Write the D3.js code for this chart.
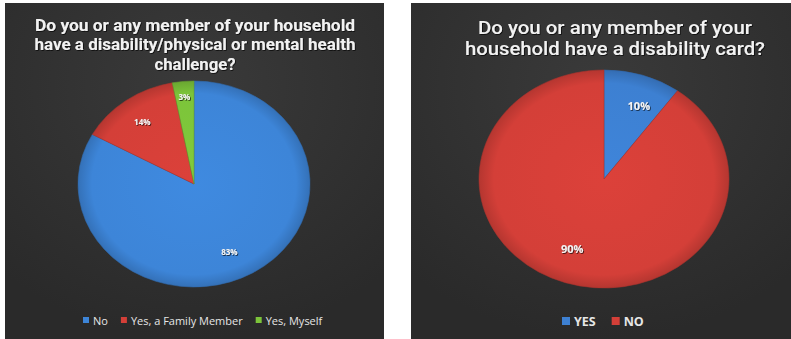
<!DOCTYPE html>
<html>
<head>
<meta charset="utf-8">
<script src="https://cdn.jsdelivr.net/npm/d3@7"></script>
<style>
  html, body { margin: 0; padding: 0; background: #ffffff; }
  svg { display: block; }
</style>
</head>
<body>
<svg id="chart" width="791" height="339"></svg>
<script>
// Survey question 1: disability / health challenge in household
const q1Title = ["Do you or any member of your household",
                 "have a disability/physical or mental health",
                 "challenge?"];
const q1Categories = ["No", "Yes, a Family Member", "Yes, Myself"];
const q1Values = [83, 14, 3];
const q1Colors = ["#3d85d8", "#d43f38", "#7cc43a"];

// Survey question 2: disability card
const q2Title = ["Do you or any member of your",
                 "household have a disability card?"];
const q2Categories = ["YES", "NO"];
const q2Values = [10, 90];
const q2Colors = ["#3d80d2", "#d43f38"];

const svg = d3.select("#chart");
const defs = svg.append("defs");

// soft shadow under text
const sh = defs.append("filter").attr("id", "txtShadow")
  .attr("x", "-20%").attr("y", "-20%").attr("width", "140%").attr("height", "140%");
sh.append("feDropShadow").attr("dx", 0.8).attr("dy", 0.8)
  .attr("stdDeviation", 0.6).attr("flood-color", "#000").attr("flood-opacity", 0.8);

// panel background: dark with a faint lighter glow near the top
const bg = defs.append("radialGradient").attr("id", "panelBg")
  .attr("cx", "50%").attr("cy", "25%").attr("r", "75%");
bg.append("stop").attr("offset", "0%").attr("stop-color", "#3a3a3a");
bg.append("stop").attr("offset", "100%").attr("stop-color", "#2a2a2a");

function drawPanel(opts) {
  const g = svg.append("g");
  g.append("rect")
    .attr("x", opts.x0).attr("y", opts.y0)
    .attr("width", opts.x1 - opts.x0).attr("height", opts.y1 - opts.y0)
    .attr("fill", "url(#panelBg)");

  // title, one text element per line, each fitted to its line width
  opts.title.forEach((line, i) => {
    const w = opts.titleWidths[i];
    g.append("text")
      .attr("x", opts.titleX - w / 2)
      .attr("y", opts.titleY + i * opts.titleLead)
      .attr("text-anchor", "start")
      .attr("fill", "#f2f2f2")
      .attr("font-family", "Roboto, 'DejaVu Sans', sans-serif")
      .attr("font-weight", opts.titleWeight)
      .attr("font-size", opts.titleSize)
      .attr("textLength", w)
      .attr("lengthAdjust", "spacingAndGlyphs")
      .attr("filter", "url(#txtShadow)")
      .text(line);
  });

  // pie: circular layout squashed vertically for a tilted look
  const pie = d3.pie().sort(null).value(d => d.value);
  const arcs = pie(opts.categories.map((c, i) => ({ cat: c, value: opts.values[i], color: opts.colors[i] })));
  const r = opts.rx;
  const arc = d3.arc().innerRadius(0).outerRadius(r);
  const labelArc = d3.arc().innerRadius(r * opts.labelR).outerRadius(r * opts.labelR);

  const pg = g.append("g")
    .attr("transform", `translate(${opts.cx},${opts.cy}) scale(1,${opts.ry / opts.rx})`);

  arcs.forEach((a, i) => {
    const gid = opts.id + "s" + i;
    const grad = defs.append("radialGradient").attr("id", gid)
      .attr("gradientUnits", "userSpaceOnUse")
      .attr("cx", 0).attr("cy", 0).attr("r", r);
    const base = d3.color(a.data.color);
    grad.append("stop").attr("offset", "0%").attr("stop-color", base.brighter(0.1));
    grad.append("stop").attr("offset", "88%").attr("stop-color", base);
    grad.append("stop").attr("offset", "100%").attr("stop-color", base.darker(0.45));
    pg.append("path")
      .attr("d", arc(a))
      .attr("fill", `url(#${gid})`)
      .attr("stroke", base.darker(0.6))
      .attr("stroke-width", 0.6);
  });

  // value labels
  arcs.forEach((a, i) => {
    const [lx, ly] = labelArc.centroid(a);
    g.append("text")
      .attr("x", opts.cx + lx + opts.labelDx[i])
      .attr("y", opts.cy + ly * opts.ry / opts.rx + opts.labelDy[i])
      .attr("text-anchor", "middle")
      .attr("dominant-baseline", "central")
      .attr("fill", "#f4f4f4")
      .attr("font-family", "'Open Sans', 'DejaVu Sans', sans-serif")
      .attr("font-weight", "bold")
      .attr("font-size", opts.labelSize)
      .attr("filter", "url(#txtShadow)")
      .text(a.data.value + "%");
  });

  // legend
  const lg = g.append("g");
  let x = opts.legendX;
  opts.categories.forEach((c, i) => {
    lg.append("rect")
      .attr("x", x).attr("y", opts.legendY - opts.swatch / 2)
      .attr("width", opts.swatch).attr("height", opts.swatch)
      .attr("fill", opts.colors[i]);
    const txt = lg.append("text")
      .attr("x", x + opts.swatch + opts.swatchPad)
      .attr("y", opts.legendY)
      .attr("dominant-baseline", "central")
      .attr("fill", "#e6e6e6")
      .attr("font-family", "'Open Sans', 'DejaVu Sans', sans-serif")
      .attr("font-weight", opts.legendWeight)
      .attr("font-size", opts.legendSize)
      .text(c);
    x += opts.swatch + opts.swatchPad + txt.node().getComputedTextLength() + opts.legendGap;
  });
}

drawPanel({
  id: "p1", x0: 5, y0: 3, x1: 384, y1: 339,
  title: q1Title, titleWidths: [320, 321, 81],
  titleX: 195, titleY: 30.5, titleLead: 19.5, titleSize: 16, titleWeight: "bold",
  categories: q1Categories, values: q1Values, colors: q1Colors,
  cx: 194, cy: 184, rx: 116, ry: 103, labelR: 0.7, labelSize: 8,
  labelDx: [-6, -4, -2], labelDy: [5, -4, -16],
  legendX: 83, legendY: 320, swatch: 6, swatchPad: 4, legendSize: 11, legendWeight: "normal", legendGap: 13
});

drawPanel({
  id: "p2", x0: 411, y0: 3, x1: 791, y1: 339,
  title: q2Title, titleWidths: [274, 300],
  titleX: 615, titleY: 33.5, titleLead: 21.5, titleSize: 18, titleWeight: "500",
  categories: q2Categories, values: q2Values, colors: q2Colors,
  cx: 604, cy: 179, rx: 125, ry: 109, labelR: 0.72, labelSize: 11,
  labelDx: [7, -4], labelDy: [1, -5],
  legendX: 562, legendY: 321, swatch: 8, swatchPad: 4, legendSize: 12.5, legendWeight: "bold", legendGap: 16
});
</script>
</body>
</html>
